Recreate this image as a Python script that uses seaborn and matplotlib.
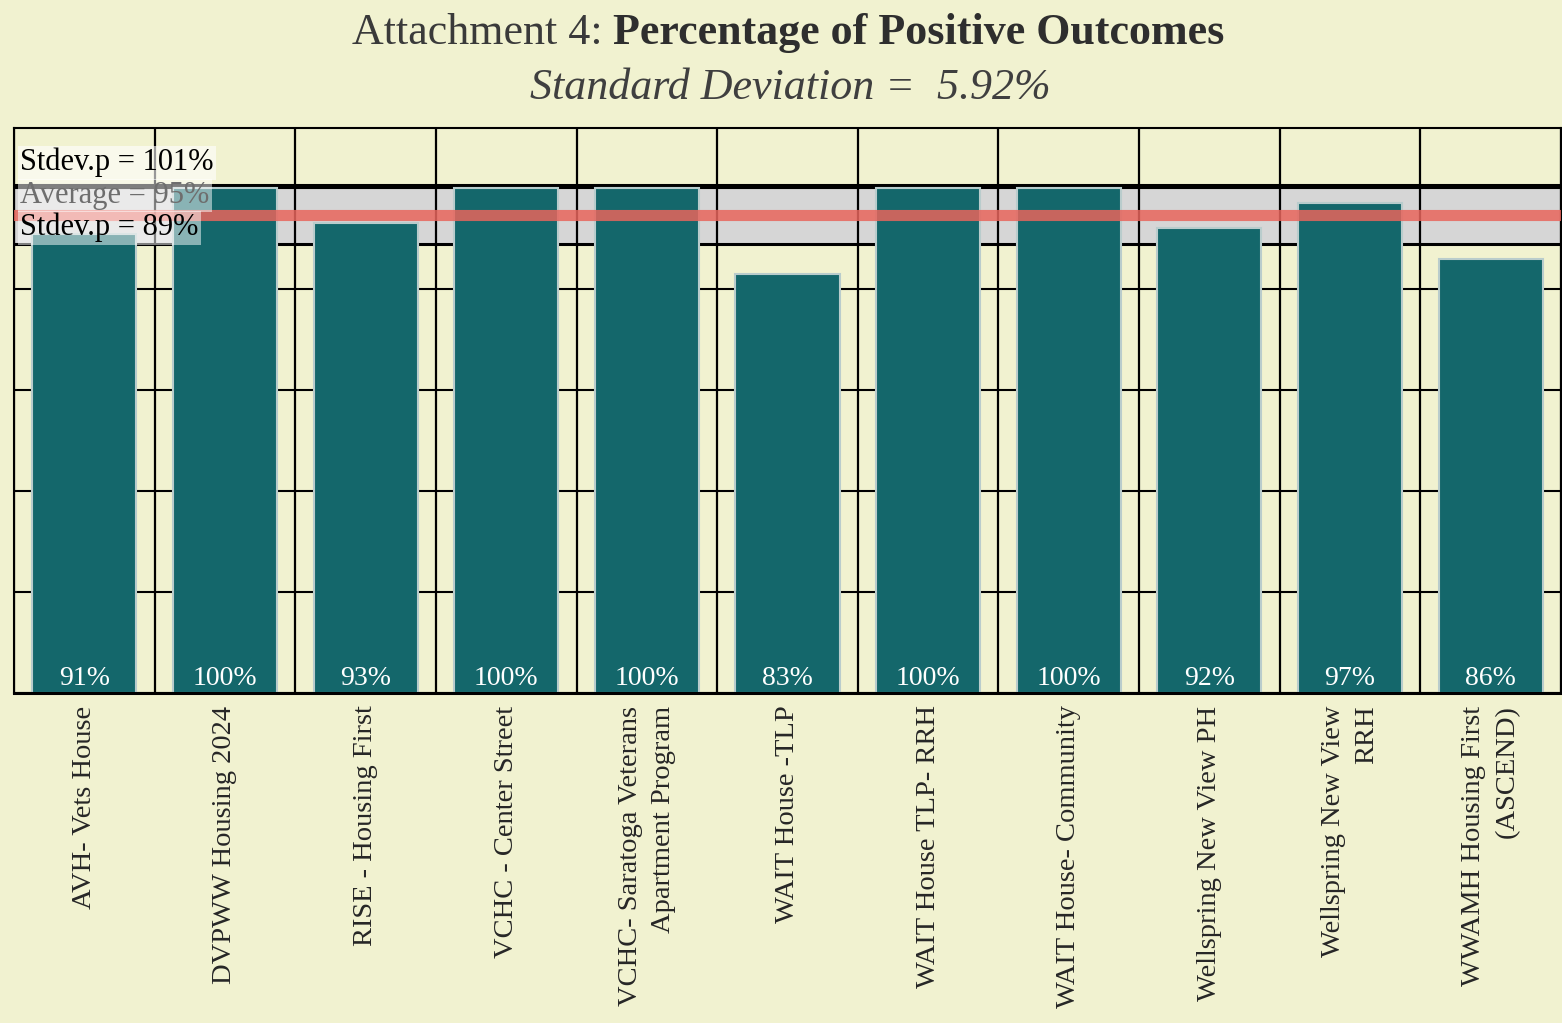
import numpy as np
import pandas as pd
import matplotlib
matplotlib.use("Agg")
import matplotlib.pyplot as plt
import seaborn as sns

categories = [
    "AVH- Vets House",
    "DVPWW Housing 2024",
    "RISE - Housing First",
    "VCHC - Center Street",
    "VCHC- Saratoga Veterans\nApartment Program",
    "WAIT House -TLP",
    "WAIT House TLP- RRH",
    "WAIT House- Community",
    "Wellspring New View PH",
    "Wellspring New View\nRRH",
    "WWAMH Housing First\n(ASCEND)",
]
values = [91, 100, 93, 100, 100, 83, 100, 100, 92, 97, 86]
grid_levels = [0, 20, 40, 60, 80, 100]
title_normal = "Attachment 4: "
title_bold = "Percentage of Positive Outcomes"
subtitle = "Standard Deviation =  5.92%"

average = float(np.mean(values))
stdev = float(np.std(values))
upper = average + stdev
lower = average - stdev

BG = "#f1f2d0"
BAR = "#14676b"

sns.set_theme(style="white")
plt.rcParams["font.family"] = ["Liberation Serif", "DejaVu Serif"]

fig = plt.figure(figsize=(15.62, 10.23), dpi=100, facecolor=BG)
ax = fig.add_axes([14 / 1562, 1 - 693 / 1023, (1561 - 14) / 1562, (693 - 128) / 1023])
ax.set_facecolor(BG)

df = pd.DataFrame({"cat": categories, "val": values})
sns.barplot(data=df, x="cat", y="val", color=BAR, saturation=1, width=0.74,
            edgecolor="#b9cccc", linewidth=1.5, ax=ax, zorder=2)

n = len(categories)
ax.set_xlim(-0.5, n - 0.5)
ax.set_ylim(0, 111.9)

# band and average
ax.axhspan(lower, upper, color="#d6d6d6", zorder=0.5, lw=0)
ax.axhline(upper, color="black", lw=2.2, zorder=1.5)
ax.axhline(lower, color="black", lw=2.2, zorder=1.5)
ax.axhline(average, color="#e8655c", lw=8, alpha=0.85, zorder=3)

# horizontal grid
for g in grid_levels:
    ax.axhline(g, color="black", lw=1.5, zorder=1)
# vertical separators
for b in np.arange(-0.5, n - 0.4, 1.0):
    ax.axvline(b, color="black", lw=1.6, zorder=1)

ax.set_xticks(np.arange(n))
ax.set_xticks(np.arange(-0.5, n, 1.0), minor=True)
ax.set_xticklabels(categories, rotation=90, fontsize=20.5, multialignment="right",
                   linespacing=1.45)
ax.tick_params(axis="x", which="major", length=0, pad=9)
ax.tick_params(axis="x", which="minor", length=7, width=1.5, color="black", direction="out")
ax.set_yticks([])
ax.set_xlabel("")
ax.set_ylabel("")
for s in ax.spines.values():
    s.set_visible(True)
    s.set_color("black")
    s.set_linewidth(1.5)
ax.spines["bottom"].set_linewidth(2.2)

# value labels
for i, v in enumerate(values):
    ax.text(i, 0.4, f"{v}%", ha="center", va="bottom", color="white", fontsize=20, zorder=4)

# band labels
trans = ax.get_yaxis_transform()
ax.text(0.004, upper + 1.5, f"Stdev.p = {upper:.0f}%", transform=trans, ha="left", va="bottom",
        fontsize=22, color="black", zorder=5,
        bbox=dict(facecolor="white", alpha=0.6, edgecolor="none", pad=1.5))
ax.text(0.004, average + 0.9, f"Average = {average:.0f}%", transform=trans, ha="left", va="bottom",
        fontsize=22, color="#6e6e6e", zorder=5,
        bbox=dict(facecolor="white", alpha=0.5, edgecolor="none", pad=1.5))
ax.text(0.004, lower + 0.4, f"Stdev.p = {lower:.0f}%", transform=trans, ha="left", va="bottom",
        fontsize=22, color="black", zorder=5,
        bbox=dict(facecolor="white", alpha=0.5, edgecolor="none", pad=1.5))

# title
r = fig.canvas.get_renderer()
t1 = fig.text(0, 0, title_normal, fontsize=31.7, color="#3a3a3a")
t2 = fig.text(0, 0, title_bold, fontsize=31.7, color="#2e2e2e", fontweight="bold")
w1 = t1.get_window_extent(r).width
w2 = t2.get_window_extent(r).width
W = fig.bbox.width
x0 = (788 - (w1 + w2) / 2) / W
ty = 1 - 33 / 1023
t1.set_position((x0, ty)); t1.set_va("center")
t2.set_position((x0 + w1 / W, ty)); t2.set_va("center")
fig.text(790 / 1562, 1 - 88 / 1023, subtitle, fontsize=31.7, style="italic", color="#3f3f3f",
         ha="center", va="center")

fig.savefig("out.png", dpi=100, facecolor=BG)
